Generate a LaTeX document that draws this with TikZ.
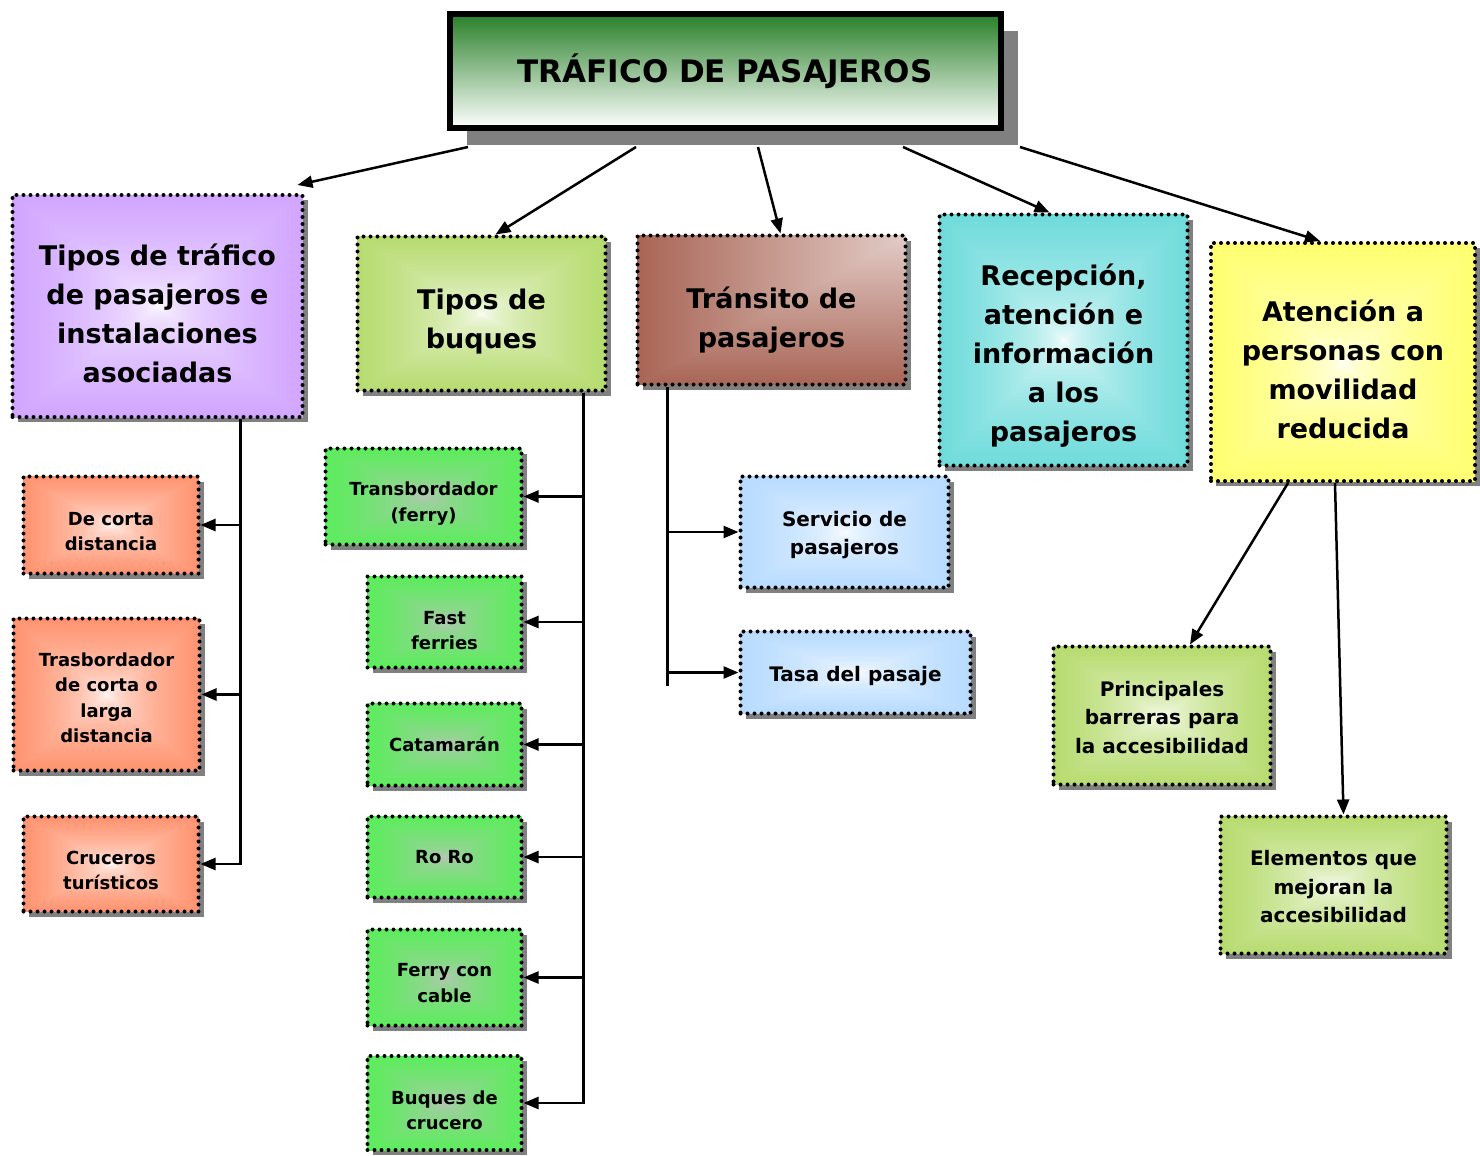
\documentclass[tikz,border=0pt]{standalone}
\usepackage{fontspec}
\setmainfont{DejaVu Sans}
\usetikzlibrary{arrows.meta,shadows}

\definecolor{verdetit}{RGB}{40,128,40}
\definecolor{lila}{RGB}{190,128,255}
\definecolor{oliva}{RGB}{153,204,51}
\definecolor{ladrillo}{RGB}{140,50,30}
\definecolor{turquesa}{RGB}{51,204,204}
\definecolor{amarillo}{RGB}{255,255,51}
\definecolor{naranja}{RGB}{255,102,51}
\definecolor{verde}{RGB}{51,255,51}
\definecolor{plata}{RGB}{192,192,192}
\definecolor{celeste}{RGB}{153,204,255}
\colorlet{boxin}{white}\colorlet{boxout}{black}

\pgfdeclarefunctionalshading[boxin,boxout]{brillo}{\pgfpoint{-50bp}{-50bp}}{\pgfpoint{50bp}{50bp}}{%
  \pgfshadecolortorgb{boxin}{\cin}\pgfshadecolortorgb{boxout}{\cout}%
  \pgfmathsetmacro\difr{\coutred-\cinred}%
  \pgfmathsetmacro\difg{\coutgreen-\cingreen}%
  \pgfmathsetmacro\difb{\coutblue-\cinblue}}{%
  abs exch abs 2 copy lt {exch} if pop 50 div sqrt
  dup \difr\space mul \cinred\space add exch
  dup \difg\space mul \cingreen\space add exch
  \difb\space mul \cinblue\space add}
\pgfdeclarefunctionalshading[boxin,boxout]{esquina}{\pgfpoint{-50bp}{-50bp}}{\pgfpoint{50bp}{50bp}}{%
  \pgfshadecolortorgb{boxin}{\cin}\pgfshadecolortorgb{boxout}{\cout}%
  \pgfmathsetmacro\difr{\coutred-\cinred}%
  \pgfmathsetmacro\difg{\coutgreen-\cingreen}%
  \pgfmathsetmacro\difb{\coutblue-\cinblue}}{%
  neg 50 add exch neg 50 add 2 copy lt {exch} if pop 100 div
  dup \difr\space mul \cinred\space add exch
  dup \difg\space mul \cingreen\space add exch
  \difb\space mul \cinblue\space add}

\newcommand\letratitulo{\fontsize{31}{40}\selectfont\bfseries}
\newcommand\letragrande{\fontsize{27}{39}\selectfont\bfseries}
\newcommand\letramedia{\fontsize{20}{28.5}\selectfont\bfseries}
\newcommand\letrachica{\fontsize{18}{25.5}\selectfont\bfseries}
\newcommand\bajar[1]{\rule{0pt}{#1}}

\begin{document}
\begin{tikzpicture}[x=1pt,y=-1pt,
    caja/.style={draw=black,line width=4pt,dash pattern=on 0pt off 7pt,line cap=round,align=center,inner sep=0pt,
      drop shadow={shadow xshift=5pt,shadow yshift=-5pt,fill=gray,opacity=1}},
    brillo/.style 2 args={shading=brillo,/utils/exec={\colorlet{boxin}{#1}\colorlet{boxout}{#2}}},
    esquina/.style 2 args={shading=esquina,/utils/exec={\colorlet{boxin}{#1}\colorlet{boxout}{#2}}},
    enlace/.style={-{Triangle[length=15pt,width=12pt]},line width=2.5pt},
    tronco/.style={line width=2.5pt}]
  \useasboundingbox (0,0) rectangle (1480,1156);
  \node[draw=black,line width=6pt,top color=verdetit,bottom color=white,minimum width=551pt,minimum height=114pt,
    drop shadow={shadow xshift=17pt,shadow yshift=-17pt,fill=gray,opacity=1},font=\letratitulo] (titulo) at (725,71) {TRÁFICO DE PASAJEROS};

  \node[caja,brillo={white}{lila},minimum width=290pt,minimum height=222pt,font=\letragrande] (trafico) at (157.5,306) {\bajar{37pt}Tipos de tráfico\\de pasajeros e\\instalaciones\\asociadas};
  \node[caja,brillo={white}{oliva},minimum width=248pt,minimum height=154pt,font=\letragrande] (buques) at (481.5,313.5) {\bajar{37pt}Tipos de\\buques};
  \node[caja,esquina={white}{ladrillo},minimum width=268pt,minimum height=149pt,font=\letragrande] (transito) at (771.5,310) {\bajar{41pt}Tránsito de\\pasajeros};
  \node[caja,brillo={white}{turquesa},minimum width=248pt,minimum height=251pt,font=\letragrande] (recepcion) at (1063.5,340) {\bajar{53pt}Recepción,\\atención e\\información\\a los\\pasajeros};
  \node[caja,brillo={white}{amarillo},minimum width=264pt,minimum height=238pt,font=\letragrande] (atencion) at (1343,362) {\bajar{37pt}Atención a\\personas con\\movilidad\\reducida};

  \node[caja,brillo={white}{naranja},minimum width=175pt,minimum height=97pt,font=\letrachica] (corta) at (111,525) {\bajar{26pt}De corta\\distancia};
  \node[caja,brillo={white}{naranja},minimum width=186pt,minimum height=152pt,font=\letrachica] (larga) at (106.5,694.5) {\bajar{20pt}Trasbordador\\de corta o\\larga\\distancia};
  \node[caja,brillo={white}{naranja},minimum width=175pt,minimum height=95pt,font=\letrachica] (cruceros) at (111,864) {\bajar{26pt}Cruceros\\turísticos};

  \node[caja,brillo={plata}{verde},minimum width=196pt,minimum height=96pt,font=\letrachica] (ferry) at (423.5,496.5) {\bajar{28pt}Transbordador\\(ferry)};
  \node[caja,brillo={plata}{verde},minimum width=154pt,minimum height=91pt,font=\letrachica] (fast) at (444.5,622) {\bajar{30pt}Fast\\ferries};
  \node[caja,brillo={plata}{verde},minimum width=154pt,minimum height=82pt,font=\letrachica] (catamaran) at (444.5,744.5) {Catamarán};
  \node[caja,brillo={plata}{verde},minimum width=154pt,minimum height=81pt,font=\letrachica] (roro) at (444.5,857) {Ro Ro};
  \node[caja,brillo={plata}{verde},minimum width=154pt,minimum height=96pt,font=\letrachica] (cable) at (444.5,977.5) {\bajar{24pt}Ferry con\\cable};
  \node[caja,brillo={plata}{verde},minimum width=154pt,minimum height=94pt,font=\letrachica] (crucero) at (444.5,1103) {\bajar{28pt}Buques de\\crucero};

  \node[caja,brillo={white}{celeste},minimum width=208pt,minimum height=111pt,font=\letramedia] (servicio) at (844.5,532) {\bajar{21pt}Servicio de\\pasajeros};
  \node[caja,brillo={white}{celeste},minimum width=230pt,minimum height=82pt,font=\letramedia] (tasa) at (855.5,672.5) {\bajar{23pt}Tasa del pasaje};

  \node[caja,brillo={white}{oliva},minimum width=217pt,minimum height=138pt,font=\letramedia] (barreras) at (1162,715.5) {\bajar{19pt}Principales\\barreras para\\la accesibilidad};
  \node[caja,brillo={white}{oliva},minimum width=226pt,minimum height=137pt,font=\letramedia] (elementos) at (1333.5,885) {\bajar{19pt}Elementos que\\mejoran la\\accesibilidad};

  \coordinate (s1) at (468,147); \coordinate (s2) at (636,147); \coordinate (s3) at (758,147);
  \coordinate (s4) at (903,147); \coordinate (s5) at (1020,147);
  \draw[enlace] (s1) -- ([xshift=-7pt,yshift=8pt]trafico.north east);
  \draw[enlace] (s2) -- ([xshift=14pt]buques.north);
  \draw[enlace] (s3) -- ([xshift=9pt]transito.north);
  \draw[enlace] (s4) -- ([xshift=-14pt]recepcion.north);
  \draw[enlace] (s5) -- ([xshift=-23pt]atencion.north);

  \path ([xshift=83pt]trafico.south) coordinate (r1);
  \draw[enlace] (r1) |- (corta.east);\draw[enlace] (r1) |- (larga.east);\draw[enlace] (r1) |- (cruceros.east);

  \path ([xshift=102pt]buques.south) coordinate (r2);
  \foreach \hijo in {ferry,fast,catamaran,roro,cable,crucero}
    \draw[enlace] (r2) |- (\hijo.east);

  \path ([xshift=-104pt]transito.south) coordinate (r3);
  \coordinate (r3fin) at (r3 |- 0,686);
  \draw[tronco] (r3) -- (r3fin);
  \draw[enlace] (r3 |- servicio.west) -- (servicio.west);\draw[enlace] (r3 |- tasa.west) -- (tasa.west);

  \draw[enlace] ([xshift=-55pt]atencion.south) -- ([xshift=28pt]barreras.north);
  \draw[enlace] ([xshift=-8pt]atencion.south) -- ([xshift=10pt]elementos.north);
\end{tikzpicture}
\end{document}
